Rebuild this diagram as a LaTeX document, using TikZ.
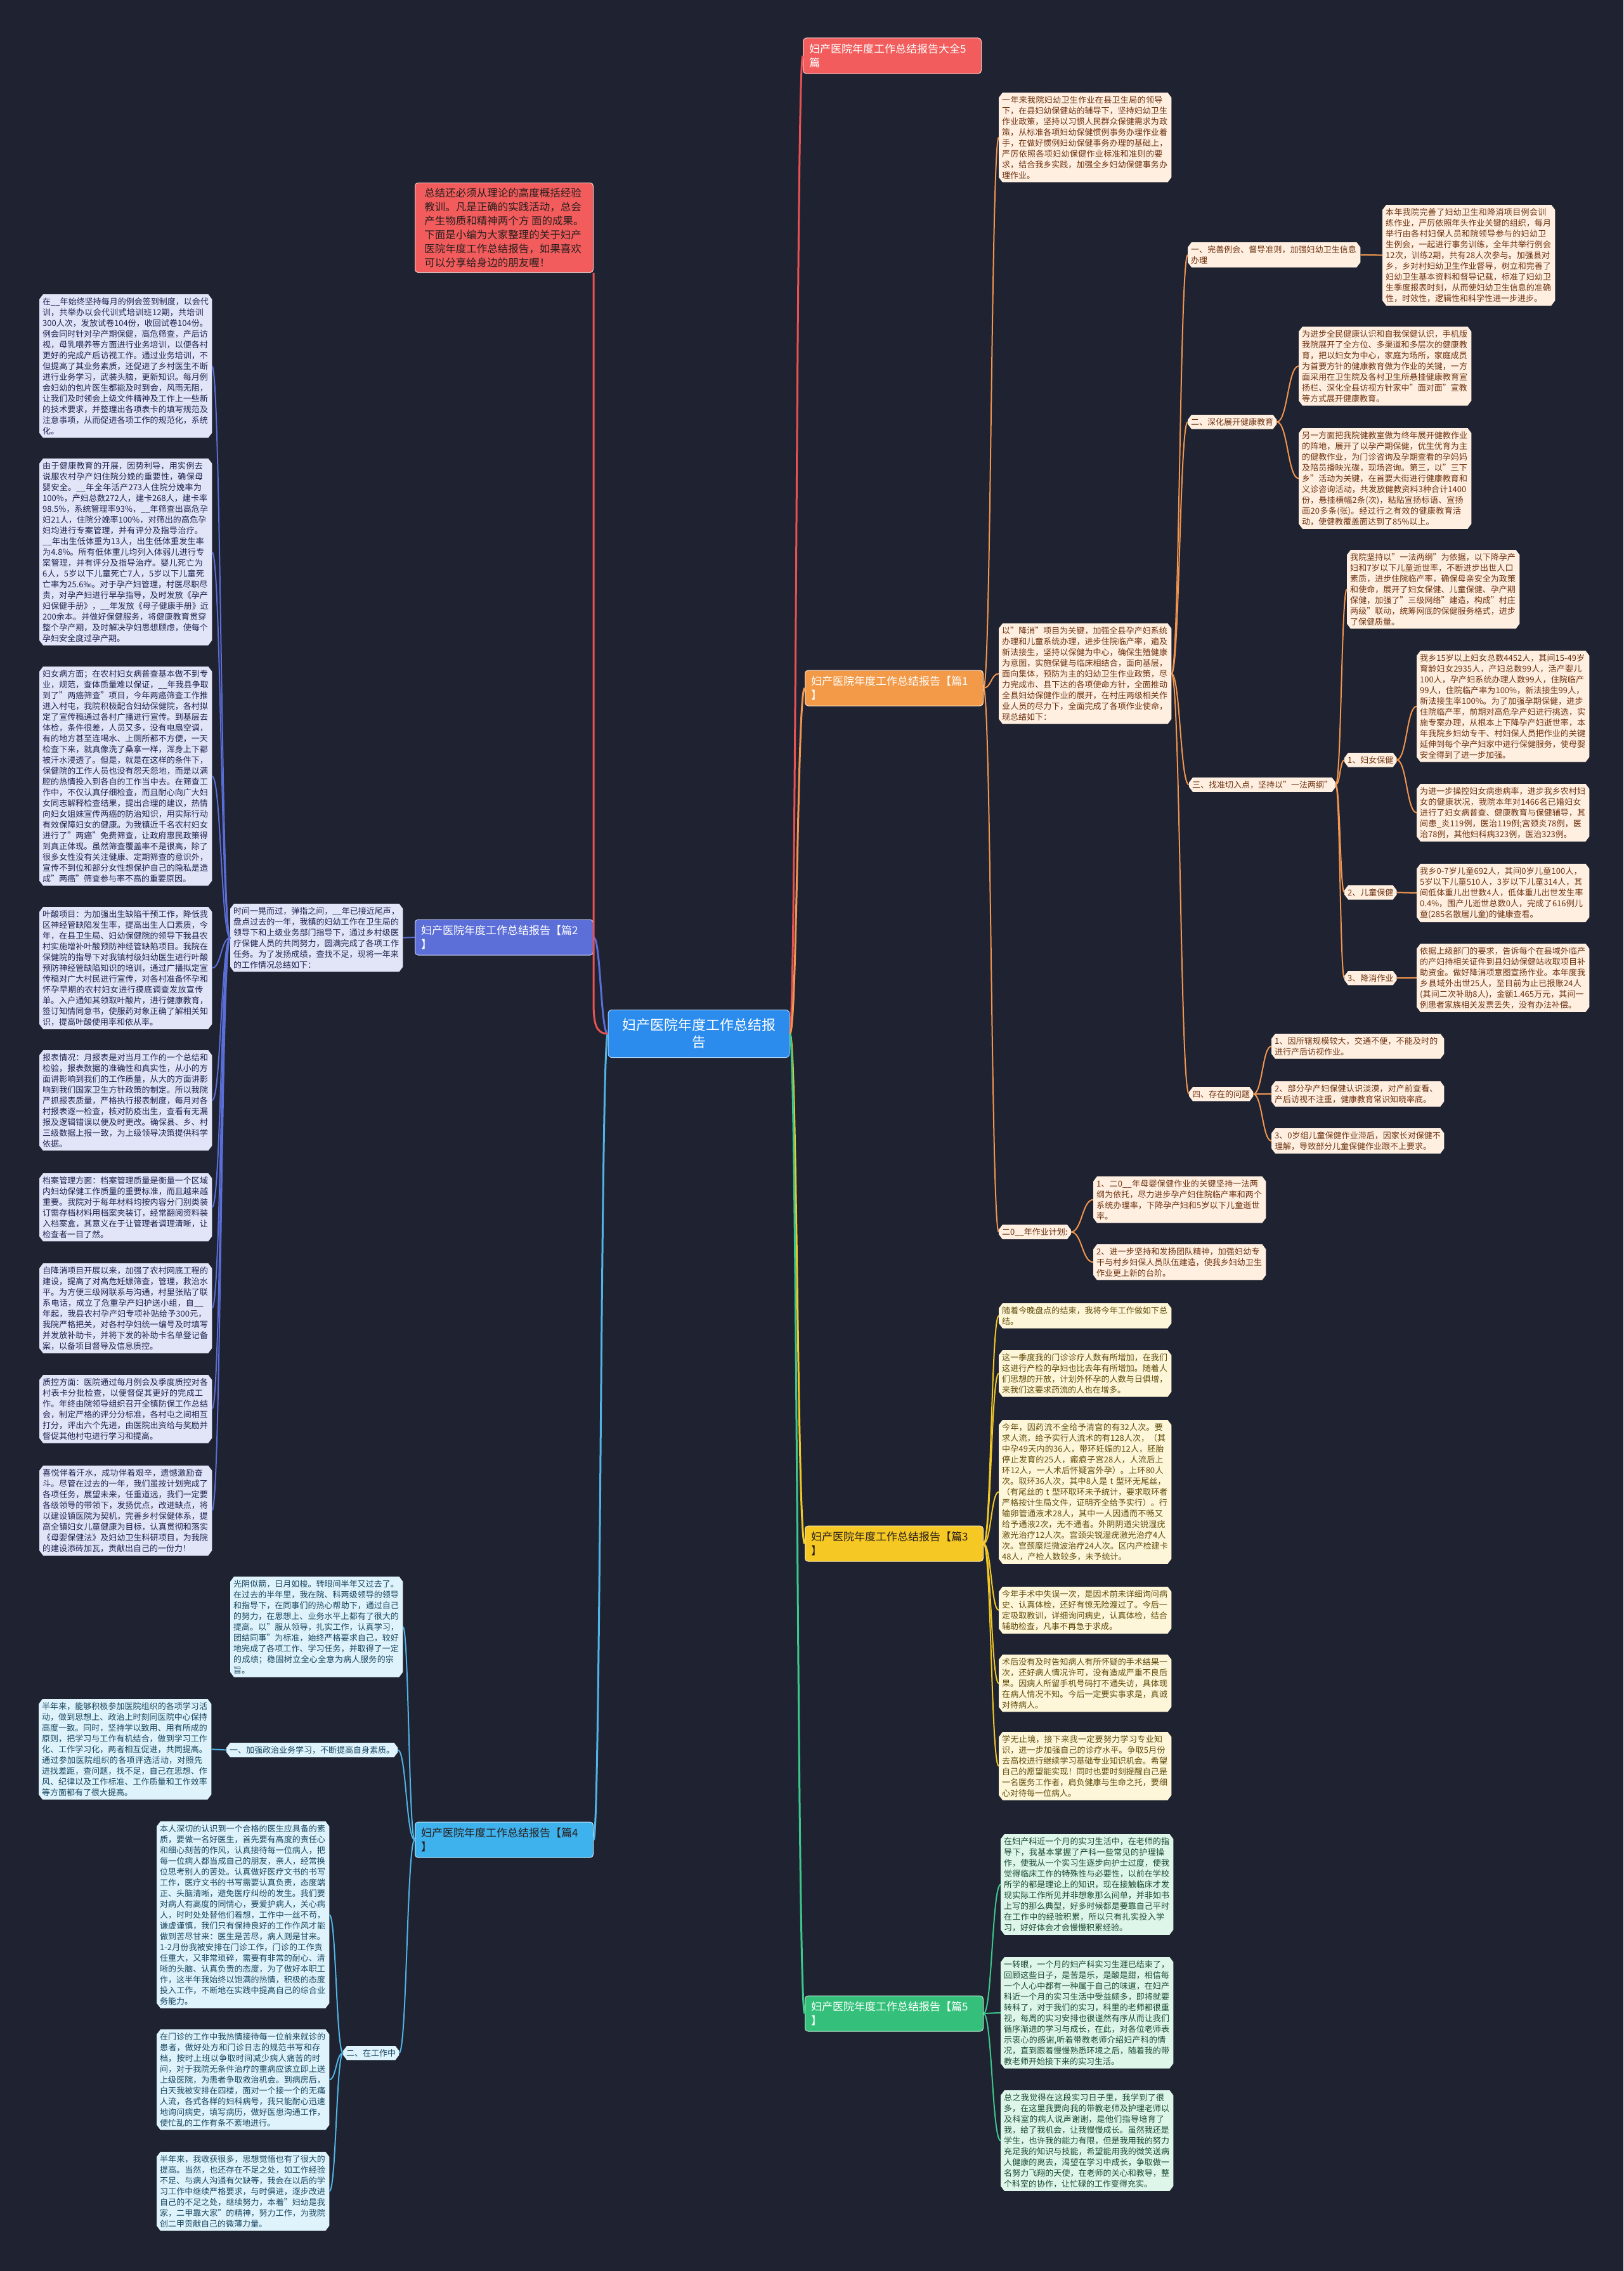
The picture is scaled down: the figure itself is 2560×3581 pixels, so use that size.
\documentclass[tikz,border=0pt]{standalone}
\usepackage{fontspec}
\setmainfont{Noto Sans CJK SC}
\XeTeXlinebreaklocale "zh"
\XeTeXlinebreakskip=0pt plus 1pt
\usetikzlibrary{calc}
\pgfdeclarelayer{bglayer}
\pgfdeclarelayer{boxlayer}
\pgfsetlayers{bglayer,boxlayer,main}
\definecolor{bgc}{RGB}{31,34,48}
\definecolor{lnR}{RGB}{232,82,82}
\definecolor{lnO}{RGB}{240,150,80}
\definecolor{lnY}{RGB}{240,200,40}
\definecolor{lnG}{RGB}{60,200,140}
\definecolor{lnI}{RGB}{90,110,215}
\definecolor{lnS}{RGB}{80,180,230}
\definecolor{brR}{RGB}{242,92,92}
\definecolor{brO}{RGB}{243,154,72}
\definecolor{brY}{RGB}{246,200,35}
\definecolor{brG}{RGB}{52,192,122}
\definecolor{brI}{RGB}{92,110,216}
\definecolor{brS}{RGB}{62,178,236}
\definecolor{brC}{RGB}{43,140,238}
\definecolor{lfI}{RGB}{226,229,248}
\definecolor{tI}{RGB}{30,35,80}
\definecolor{lfS}{RGB}{222,243,252}
\definecolor{tS}{RGB}{25,70,95}
\definecolor{lfO}{RGB}{255,239,225}
\definecolor{tO}{RGB}{110,50,15}
\definecolor{lfY}{RGB}{254,246,216}
\definecolor{tY}{RGB}{95,75,10}
\definecolor{lfG}{RGB}{222,245,233}
\definecolor{tG}{RGB}{25,75,50}
\definecolor{darkt}{RGB}{40,30,30}
\tikzset{
  leafbase/.style={inner xsep=5pt,inner ysep=5pt,align=left,font=\fontsize{13}{17}\selectfont},
  tw/.style={text width=262pt},
  branch/.style={rounded corners=5pt,minimum width=281pt,minimum height=56pt,text width=262pt,inner xsep=9pt,align=left,font=\fontsize{17}{22}\selectfont,draw=white!70!#1,line width=1pt,fill=#1},
  mainln/.style={line width=3pt},
  subln/.style={line width=2pt}
}
\newcommand\leaf[6]{%
  \node[leafbase,text=#5,#3,anchor=north west] (#1) at (#2) {#6};
  \begin{pgfonlayer}{boxlayer}
  \fill[#4] ($(#1.north west)+(6pt,0pt)$) -- ($(#1.north east)+(-6pt,0pt)$) -- ($(#1.north east)+(0pt,-8pt)$) -- ($(#1.south east)+(0pt,8pt)$) -- ($(#1.south east)+(-6pt,0pt)$) -- ($(#1.south west)+(6pt,0pt)$) -- ($(#1.south west)+(0pt,8pt)$) -- ($(#1.north west)+(0pt,-8pt)$) -- cycle;
  \end{pgfonlayer}}
\newcommand\lnkR[3]{\draw[#1] let \p1=(#2.east), \p2=(#3.west) in (\p1) .. controls ({(\x1+\x2)/2},\y1) and ({(\x1+\x2)/2},\y2) .. (\p2);}
\newcommand\lnkL[3]{\draw[#1] let \p1=(#2.west), \p2=(#3.east) in (\p1) .. controls ({(\x1+\x2)/2},\y1) and ({(\x1+\x2)/2},\y2) .. (\p2);}
\begin{document}
\begin{tikzpicture}[x=1pt,y=-1pt]
\begin{pgfonlayer}{bglayer}
\fill[bgc] (0,0) rectangle (2560,3581);
\end{pgfonlayer}
\useasboundingbox (0,0) rectangle (2560,3581);

% center
\node[rounded corners=6pt,minimum width=286pt,minimum height=75pt,fill=brC,draw=white!60!brC,line width=1pt,text=white,align=center,font=\fontsize{22}{27}\selectfont] (ctr) at (1102,1630) {妇产医院年度工作总结报\\告};

% branches
\node[branch=brR,text=white] (b0) at (1407,88) {妇产医院年度工作总结报告大全5\\篇};
\node[branch=brO,text=white] (b1) at (1410,1085) {妇产医院年度工作总结报告【篇1\\】};
\node[branch=brY,text=darkt] (b3) at (1410,2434) {妇产医院年度工作总结报告【篇3\\】};
\node[branch=brG,text=white] (b5) at (1410,3175) {妇产医院年度工作总结报告【篇5\\】};
\node[branch=brI,text=white] (b2) at (795,1478) {妇产医院年度工作总结报告【篇2\\】};
\node[branch=brS,text=darkt] (b4) at (795,2901) {妇产医院年度工作总结报告【篇4\\】};
\node[rounded corners=5pt,minimum width=281pt,fill=brR,draw=white!70!brR,line width=1pt,text=darkt,align=left,inner xsep=12pt,inner ysep=8pt,font=\fontsize{16.5}{22}\selectfont] (intro) at (795,359) {总结还必须从理论的高度概括经验\\教训。凡是正确的实践活动，总会\\产生物质和精神两个方 面的成果。\\下面是小编为大家整理的关于妇产\\医院年度工作总结报告，如果喜欢\\可以分享给身边的朋友喔！};

% ---------- 篇2 (indigo) ----------
\leaf{p}{363,1425}{tw}{lfI}{tI}{时间一晃而过，弹指之间，\_\_年已接近尾声，盘点过去的一年，我镇的妇幼工作在卫生局的领导下和上级业务部门指导下，通过乡村级医疗保健人员的共同努力，圆满完成了各项工作任务。为了发扬成绩，查找不足，现将一年来的工作情况总结如下：}
\leaf{q1}{62,464}{tw}{lfI}{tI}{在\_\_年始终坚持每月的例会签到制度，以会代训，共举办以会代训式培训班12期，共培训300人次，发放试卷104份，收回试卷104份。例会同时针对孕产期保健，高危筛查，产后访视，母乳喂养等方面进行业务培训，以便各村更好的完成产后访视工作。通过业务培训，不但提高了其业务素质，还促进了乡村医生不断进行业务学习，武装头脑，更新知识。每月例会妇幼的包片医生都能及时到会，风雨无阻，让我们及时领会上级文件精神及工作上一些新的技术要求，并整理出各项表卡的填写规范及注意事项，从而促进各项工作的规范化，系统化。}
\leaf{q2}{62,723}{tw}{lfI}{tI}{由于健康教育的开展，因势利导，用实例去说服农村孕产妇住院分娩的重要性，确保母婴安全。\_\_年全年活产273人住院分娩率为100\%，产妇总数272人，建卡268人，建卡率98.5\%，系统管理率93\%，\_\_年筛查出高危孕妇21人，住院分娩率100\%，对筛出的高危孕妇均进行专案管理，并有评分及指导治疗。\_\_年出生低体重为13人，出生低体重发生率为4.8\%。所有低体重儿均列入体弱儿进行专案管理，并有评分及指导治疗。婴儿死亡为6人，5岁以下儿童死亡7人，5岁以下儿童死亡率为25.6‰。对于孕产妇管理，村医尽职尽责，对孕产妇进行早孕指导，及时发放《孕产妇保健手册》，\_\_年发放《母子健康手册》近200余本。并做好保健服务，将健康教育贯穿整个孕产期，及时解决孕妇思想顾虑，使每个孕妇安全度过孕产期。}
\leaf{q3}{62,1051}{tw}{lfI}{tI}{妇女病方面；在农村妇女病普查基本做不到专业，规范，查体质量难以保证，\_\_年我县争取到了"两癌筛查"项目，今年两癌筛查工作推进入村屯，我院积极配合妇幼保健院，各村拟定了宣传稿通过各村广播进行宣传。到基层去体检，条件很差，人员又多，没有电扇空调，有的地方甚至连喝水、上厕所都不方便，一天检查下来，就真像洗了桑拿一样，浑身上下都被汗水浸透了。但是，就是在这样的条件下，保健院的工作人员也没有怨天怨地，而是以满腔的热情投入到各自的工作当中去。在筛查工作中，不仅认真仔细检查，而且耐心向广大妇女同志解释检查结果，提出合理的建议，热情向妇女姐妹宣传两癌的防治知识，用实际行动有效保障妇女的健康。为我镇近千名农村妇女进行了"两癌"免费筛查，让政府惠民政策得到真正体现。虽然筛查覆盖率不是很高，除了很多女性没有关注健康、定期筛查的意识外，宣传不到位和部分女性想保护自己的隐私是造成"两癌"筛查参与率不高的重要原因。}
\leaf{q4}{62,1430}{tw}{lfI}{tI}{叶酸项目：为加强出生缺陷干预工作，降低我区神经管缺陷发生率，提高出生人口素质，今年，在县卫生局、妇幼保健院的领导下我县农村实施增补叶酸预防神经管缺陷项目。我院在保健院的指导下对我镇村级妇幼医生进行叶酸预防神经管缺陷知识的培训，通过广播拟定宣传稿对广大村民进行宣传，对各村准备怀孕和怀孕早期的农村妇女进行摸底调查发放宣传单。入户通知其领取叶酸片，进行健康教育，签订知情同意书，使服药对象正确了解相关知识，提高叶酸使用率和依从率。}
\leaf{q5}{62,1656}{tw}{lfI}{tI}{报表情况：月报表是对当月工作的一个总结和检验，报表数据的准确性和真实性，从小的方面讲影响到我们的工作质量，从大的方面讲影响到我们国家卫生方针政策的制定。所以我院严抓报表质量，严格执行报表制度，每月对各村报表逐一检查，核对防疫出生，查看有无漏报及逻辑错误以便及时更改。确保县、乡、村三级数据上报一致，为上级领导决策提供科学依据。}
\leaf{q6}{62,1850}{tw}{lfI}{tI}{档案管理方面：档案管理质量是衡量一个区域内妇幼保健工作质量的重要标准，而且越来越重要。我院对于每年材料均按内容分门别类装订需存档材料用档案夹装订，经常翻阅资料装入档案盒，其意义在于让管理者调理清晰，让检查者一目了然。}
\leaf{q7}{62,1992}{tw}{lfI}{tI}{自降消项目开展以来，加强了农村网底工程的建设，提高了对高危妊娠筛查，管理，救治水平。为方便三级网联系与沟通，村里张贴了联系电话，成立了危重孕产妇护送小组，自\_\_年起，我县农村孕产妇专项补贴给予300元，我院严格把关，对各村孕妇统一编号及时填写并发放补助卡，并将下发的补助卡名单登记备案，以备项目督导及信息质控。}
\leaf{q8}{62,2168}{tw}{lfI}{tI}{质控方面：医院通过每月例会及季度质控对各村表卡分批检查，以便督促其更好的完成工作。年终由院领导组织召开全镇防保工作总结会，制定严格的评分分标准，各村屯之间相互打分，评出六个先进，由医院出资给与奖励并督促其他村屯进行学习和提高。}
\leaf{q9}{62,2311}{tw}{lfI}{tI}{喜悦伴着汗水，成功伴着艰辛，遗憾激励奋斗。尽管在过去的一年，我们虽按计划完成了各项任务，展望未来，任重道远，我们一定要各级领导的带领下，发扬优点，改进缺点，将以建设镇医院为契机，完善乡村保健体系，提高全镇妇女儿童健康为目标，认真贯彻和落实《母婴保健法》及妇幼卫生科研项目，为我院的建设添砖加瓦，贡献出自己的一份力！}

% ---------- 篇4 (sky) ----------
\leaf{r1}{363,2486}{tw}{lfS}{tS}{光阴似箭，日月如梭。转眼间半年又过去了。在过去的半年里，我在院、科两级领导的领导和指导下，在同事们的热心帮助下，通过自己的努力，在思想上、业务水平上都有了很大的提高。以"服从领导，扎实工作，认真学习，团结同事"为标准，始终严格要求自己，较好地完成了各项工作、学习任务，并取得了一定的成绩；稳固树立全心全意为病人服务的宗旨。}
\leaf{s1}{357,2748}{}{lfS}{tS}{一、加强政治业务学习，不断提高自身素质。}
\leaf{r2}{61,2679}{tw}{lfS}{tS}{半年来，能够积极参加医院组织的各项学习活动，做到思想上、政治上时刻同医院中心保持高度一致。同时，坚持学以致用、用有所成的原则，把学习与工作有机结合，做到学习工作化、工作学习化，两者相互促进，共同提高。通过参加医院组织的各项评选活动，对照先进找差距，查问题，找不足，自己在思想、作风、纪律以及工作标准、工作质量和工作效率等方面都有了很大提高。}
\leaf{s2}{541,3226}{}{lfS}{tS}{二、在工作中}
\leaf{t1}{247,2872}{tw}{lfS}{tS}{本人深切的认识到一个合格的医生应具备的素质，要做一名好医生，首先要有高度的责任心和细心刻苦的作风，认真接待每一位病人，把每一位病人都当成自己的朋友，亲人，经常换位思考别人的苦处。认真做好医疗文书的书写工作，医疗文书的书写需要认真负责，态度端正、头脑清晰，避免医疗纠纷的发生。我们要对病人有高度的同情心，要爱护病人，关心病人，时时处处替他们着想，工作中一丝不苟，谦虚谨慎，我们只有保持良好的工作作风才能做到苦尽甘来：医生是苦尽，病人则是甘来。1-2月份我被安排在门诊工作，门诊的工作责任重大，又非常琐碎，需要有非常的耐心、清晰的头脑、认真负责的态度，为了做好本职工作，这半年我始终以饱满的热情，积极的态度投入工作，不断地在实践中提高自己的综合业务能力。}
\leaf{t2}{247,3200}{tw}{lfS}{tS}{在门诊的工作中我热情接待每一位前来就诊的患者，做好处方和门诊日志的规范书写和存档，按时上班以争取时间减少病人痛苦的时间，对于我院无条件治疗的重病应该立即上送上级医院，为患者争取救治机会。到病房后，白天我被安排在四楼，面对一个接一个的无痛人流，各式各样的妇科病号，我只能耐心迅速地询问病史，填写病历，做好医患沟通工作，使忙乱的工作有条不紊地进行。}
\leaf{t3}{247,3393}{tw}{lfS}{tS}{半年来，我收获很多，思想觉悟也有了很大的提高。当然，也还存在不足之处，如工作经验不足、与病人沟通有欠缺等，我会在以后的学习工作中继续严格要求，与时俱进，逐步改进自己的不足之处，继续努力，本着"妇幼是我家，二甲靠大家"的精神，努力工作，为我院创二甲贡献自己的微薄力量。}

% ---------- 篇1 (orange) ----------
\leaf{a}{1575,146}{tw}{lfO}{tO}{一年来我院妇幼卫生作业在县卫生局的领导下，在县妇幼保健站的辅导下，坚持妇幼卫生作业政策，坚持以习惯人民群众保健需求为政策，从标准各项妇幼保健惯例事务办理作业着手，在做好惯例妇幼保健事务办理的基础上，严厉依照各项妇幼保健作业标准和准则的要求，结合我乡实践，加强全乡妇幼保健事务办理作业。}
\leaf{f}{1575,983}{tw}{lfO}{tO}{以"降消"项目为关键，加强全县孕产妇系统办理和儿童系统办理，进步住院临产率，遍及新法接生，坚持以保健为中心，确保生殖健康为意图，实施保健与临床相结合，面向基层，面向集体，预防为主的妇幼卫生作业政策，尽力完成市、县下达的各项使命方针，全面推动全县妇幼保健作业的展开，在村庄两级相关作业人员的尽力下，全面完成了各项作业使命，现总结如下：}
\leaf{plan}{1575,1931}{}{lfO}{tO}{二0\_\_年作业计划:}
\leaf{pl1}{1724,1855}{tw}{lfO}{tO}{1、二0\_\_年母婴保健作业的关键坚持一法两纲为依托，尽力进步孕产妇住院临产率和两个系统办理率，下降孕产妇和5岁以下儿童逝世率。}
\leaf{pl2}{1724,1962}{tw}{lfO}{tO}{2、进一步坚持和发扬团队精神，加强妇幼专干与村乡妇保人员队伍建造，使我乡妇幼卫生作业更上新的台阶。}
\leaf{c1}{1873,382}{tw}{lfO}{tO}{一、完善例会、督导准则，加强妇幼卫生信息办理}
\leaf{bb}{2180,323}{tw}{lfO}{tO}{本年我院完善了妇幼卫生和降消项目例会训练作业，严厉依照年头作业关键的组织，每月举行由各村妇保人员和院领导参与的妇幼卫生例会，一起进行事务训练，全年共举行例会12次，训练2期，共有28人次参与。加强县对乡，乡对村妇幼卫生作业督导，树立和完善了妇幼卫生基本资料和督导记载，标准了妇幼卫生季度报表时刻，从而使妇幼卫生信息的准确性，时效性，逻辑性和科学性进一步进步。}
\leaf{c2}{1873,654}{}{lfO}{tO}{二、深化展开健康教育}
\leaf{cc}{2048,515}{tw}{lfO}{tO}{为进步全民健康认识和自我保健认识，手机版我院展开了全方位、多渠道和多层次的健康教育，把以妇女为中心，家庭为场所，家庭成员为首要方针的健康教育做为作业的关键，一方面采用在卫生院及各村卫生所悬挂健康教育宣扬栏、深化全县访视方针家中"面对面"宣教等方式展开健康教育。}
\leaf{dd}{2048,675}{tw}{lfO}{tO}{另一方面把我院健教室做为终年展开健教作业的阵地，展开了以孕产期保健，优生优育为主的健教作业，为门诊咨询及孕期查看的孕妈妈及陪员播映光碟，现场咨询。第三，以"三下乡"活动为关键，在首要大街进行健康教育和义诊咨询活动，共发放健教资料3种合计1400份，悬挂横幅2条(次)，粘贴宣扬标语、宣扬画20多条(张)。经过行之有效的健康教育活动，使健教覆盖面达到了85\%以上。}
\leaf{c3}{1875,1226}{}{lfO}{tO}{三、找准切入点，坚持以"一法两纲"}
\leaf{ee}{2124,867}{tw}{lfO}{tO}{我院坚持以"一法两纲"为依据，以下降孕产妇和7岁以下儿童逝世率，不断进步出世人口素质，进步住院临产率，确保母亲安全为政策和使命，展开了妇女保健、儿童保健、孕产期保健，加强了"三级网络"建造，构成"村庄两级"联动，统筹网底的保健服务格式，进步了保健质量。}
\leaf{d1}{2120,1187}{}{lfO}{tO}{1、妇女保健}
\leaf{gg}{2234,1026}{tw}{lfO}{tO}{我乡15岁以上妇女总数4452人，其间15-49岁育龄妇女2935人，产妇总数99人，活产婴儿100人，孕产妇系统办理人数99人，住院临产99人，住院临产率为100\%，新法接生99人，新法接生率100\%。为了加强孕期保健，进步住院临产率，前期对高危孕产妇进行挑选，实施专案办理，从根本上下降孕产妇逝世率，本年我院乡妇幼专干、村妇保人员把作业的关键延伸到每个孕产妇家中进行保健服务，使母婴安全得到了进一步加强。}
\leaf{hh}{2234,1236}{tw}{lfO}{tO}{为进一步操控妇女病患病率，进步我乡农村妇女的健康状况，我院本年对1466名已婚妇女进行了妇女病普查、健康教育与保健辅导，其间患\_炎119例，医治119例;宫颈炎78例，医治78例，其他妇科病323例，医治323例。}
\leaf{d2}{2120,1396}{}{lfO}{tO}{2、儿童保健}
\leaf{ii}{2234,1362}{tw}{lfO}{tO}{我乡0-7岁儿童692人，其间0岁儿童100人，5岁以下儿童510人，3岁以下儿童314人，其间低体重儿出世数4人，低体重儿出世发生率0.4\%，围产儿逝世总数0人，完成了616例儿童(285名散居儿童)的健康查看。}
\leaf{d3}{2120,1531}{}{lfO}{tO}{3、降消作业}
\leaf{jj}{2234,1488}{tw}{lfO}{tO}{依据上级部门的要求，告诉每个在县域外临产的产妇持相关证件到县妇幼保健站收取项目补助资金。做好降消项意图宣扬作业。本年度我乡县域外出世25人，至目前为止已报账24人(其间二次补助8人)，金额1.465万元，其间一例患者家族相关发票丢失，没有办法补偿。}
\leaf{c4}{1875,1714}{}{lfO}{tO}{四、存在的问题}
\leaf{k1}{2005,1630}{tw}{lfO}{tO}{1、因所辖规模较大，交通不便，不能及时的进行产后访视作业。}
\leaf{k2}{2005,1705}{tw}{lfO}{tO}{2、部分孕产妇保健认识淡漠，对产前查看、产后访视不注重，健康教育常识知晓率底。}
\leaf{k3}{2005,1779}{tw}{lfO}{tO}{3、0岁组儿童保健作业滞后，因家长对保健不理解，导致部分儿童保健作业跟不上要求。}

% ---------- 篇3 (yellow) ----------
\leaf{m1}{1575,2055}{tw}{lfY}{tY}{随着今晚盘点的结束，我将今年工作做如下总结。}
\leaf{m2}{1575,2129}{tw}{lfY}{tY}{这一季度我的门诊诊疗人数有所增加，在我们这进行产检的孕妇也比去年有所增加。随着人们思想的开放，计划外怀孕的人数与日俱增，来我们这要求药流的人也在增多。}
\leaf{m3}{1575,2239}{tw}{lfY}{tY}{今年，因药流不全给予清宫的有32人次。要求人流，给予实行人流术的有128人次，（其中孕49天内的36人，带环妊娠的12人，胚胎停止发育的25人，瘢痕子宫28人，人流后上环12人，一人术后怀疑宫外孕）。上环80人次。取环36人次，其中8人是 t 型环无尾丝，（有尾丝的 t 型环取环未予统计，要求取环者严格按计生局文件，证明齐全给予实行）。行输卵管通液术28人，其中一人因通而不畅又给予通液2次，无不通者。外阴阴道尖锐湿疣激光治疗12人次。宫颈尖锐湿疣激光治疗4人次。宫颈糜烂微波治疗24人次。区内产检建卡48人，产检人数较多，未予统计。}
\leaf{m4}{1575,2502}{tw}{lfY}{tY}{今年手术中失误一次，是因术前未详细询问病史、认真体检，还好有惊无险渡过了。今后一定吸取教训，详细询问病史，认真体检，结合辅助检查，凡事不再急于求成。}
\leaf{m5}{1575,2609}{tw}{lfY}{tY}{术后没有及时告知病人有所怀疑的手术结果一次，还好病人情况许可，没有造成严重不良后果。因病人所留手机号码打不通失访，具体现在病人情况不知。今后一定要实事求是，真诚对待病人。}
\leaf{m6}{1575,2731}{tw}{lfY}{tY}{学无止境，接下来我一定要努力学习专业知识，进一步加强自己的诊疗水平。争取5月份去高校进行继续学习基础专业知识机会。希望自己的愿望能实现！同时也要时刻提醒自己是一名医务工作者，肩负健康与生命之托，要细心对待每一位病人。}

% ---------- 篇5 (green) ----------
\leaf{n1}{1578,2892}{tw}{lfG}{tG}{在妇产科近一个月的实习生活中，在老师的指导下，我基本掌握了产科一些常见的护理操作，使我从一个实习生逐步向护士过度，使我觉得临床工作的特殊性与必要性，以前在学校所学的都是理论上的知识，现在接触临床才发现实际工作所见并非想象那么间单，并非如书上写的那么典型，好多时候都是要靠自己平时在工作中的经验积累，所以只有扎实投入学习，好好体会才会慢慢积累经验。}
\leaf{n2}{1578,3086}{tw}{lfG}{tG}{一转眼，一个月的妇产科实习生涯已结束了，回顾这些日子，是苦是乐，是酸是甜，相信每一个人心中都有一种属于自己的味道，在妇产科近一个月的实习生活中受益颇多，即将就要转科了，对于我们的实习，科里的老师都很重视，每周的实习安排也很谨然有序从而让我们循序渐进的学习与成长，在此，对各位老师表示衷心的感谢,听着带教老师介绍妇产科的情况，直到跟着慢慢熟悉环境之后，随着我的带教老师开始接下来的实习生活。}
\leaf{n3}{1578,3296}{tw}{lfG}{tG}{总之我觉得在这段实习日子里，我学到了很多，在这里我要向我的带教老师及护理老师以及科室的病人说声谢谢，是他们指导培育了我，给了我机会，让我慢慢成长。虽然我还是学生，也许我的能力有限，但是我用我的努力充足我的知识与技能，希望能用我的微笑送病人健康的离去，渴望在学习中成长，争取做一名努力飞翔的天使，在老师的关心和教导，整个科室的协作，让忙碌的工作变得充实。}

% ---------- connectors ----------
\lnkR{mainln,lnR}{ctr}{b0}
\lnkR{mainln,lnO}{ctr}{b1}
\lnkR{mainln,lnY}{ctr}{b3}
\lnkR{mainln,lnG}{ctr}{b5}
\lnkL{mainln,lnI}{ctr}{b2}
\lnkL{mainln,lnS}{ctr}{b4}
\draw[mainln,lnR] (ctr.west) .. controls (940,1630) and (936,1615) .. (936,1580) -- (intro.south east);

\lnkL{subln,lnI}{b2}{p}
\foreach \q in {q1,q2,q3,q4,q5,q6,q7,q8,q9} {\lnkL{subln,lnI}{p}{\q}}

\foreach \q in {r1,s1,s2} {\lnkL{subln,lnS}{b4}{\q}}
\lnkL{subln,lnS}{s1}{r2}
\foreach \q in {t1,t2,t3} {\lnkL{subln,lnS}{s2}{\q}}

\foreach \q in {a,f,plan} {\lnkR{subln,lnO}{b1}{\q}}
\foreach \q in {c1,c2,c3,c4} {\lnkR{subln,lnO}{f}{\q}}
\lnkR{subln,lnO}{c1}{bb}
\foreach \q in {cc,dd} {\lnkR{subln,lnO}{c2}{\q}}
\foreach \q in {ee,d1,d2,d3} {\lnkR{subln,lnO}{c3}{\q}}
\foreach \q in {gg,hh} {\lnkR{subln,lnO}{d1}{\q}}
\lnkR{subln,lnO}{d2}{ii}
\lnkR{subln,lnO}{d3}{jj}
\foreach \q in {k1,k2,k3} {\lnkR{subln,lnO}{c4}{\q}}
\foreach \q in {pl1,pl2} {\lnkR{subln,lnO}{plan}{\q}}

\foreach \q in {m1,m2,m3,m4,m5,m6} {\lnkR{subln,lnY}{b3}{\q}}
\foreach \q in {n1,n2,n3} {\lnkR{subln,lnG}{b5}{\q}}
\end{tikzpicture}
\end{document}
